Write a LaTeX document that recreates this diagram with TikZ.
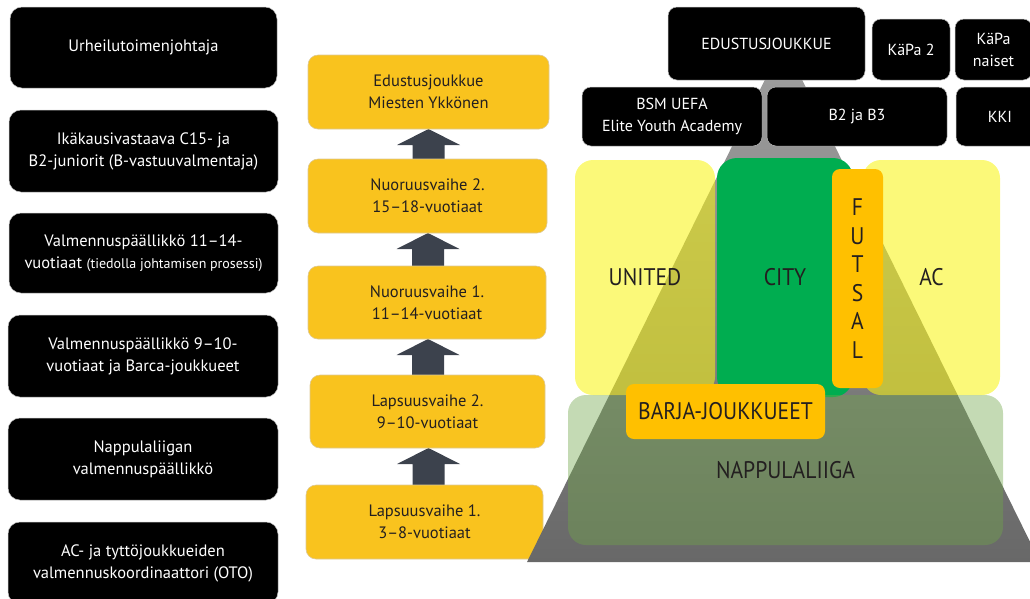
\documentclass[tikz,border=0pt]{standalone}
\usepackage{fontspec}
\setmainfont{PT Sans}
\newfontfamily\condfont{PT Sans}[FakeStretch=0.9]
\usetikzlibrary{calc}
\definecolor{ylwc}{RGB}{249,195,30}
\definecolor{ylwline}{RGB}{220,200,150}
\definecolor{txtc}{RGB}{35,31,32}
\definecolor{arrc}{RGB}{60,66,77}
\definecolor{cityc}{RGB}{0,173,80}
\definecolor{orc}{RGB}{255,192,0}
\definecolor{uyel}{RGB}{248,245,20}
\definecolor{nappc}{RGB}{112,166,73}
\definecolor{trtop}{RGB}{160,160,160}
\definecolor{trbot}{RGB}{104,104,104}
\begin{document}
\begin{tikzpicture}[x=1pt,y=-1pt,
  blk/.style={fill=black, draw=gray!50, line width=0.5pt, rounded corners=12pt, text=white, align=center, inner sep=0pt, font=\fontsize{16.5}{22}\selectfont},
  tblk/.style={blk, rounded corners=9pt, font=\fontsize{16}{22}\selectfont},
  ylw/.style={fill=ylwc, draw=ylwline, line width=0.6pt, rounded corners=10pt, text=txtc, align=center, inner sep=0pt, font=\fontsize{16.5}{22}\selectfont},
  arr/.style={fill=arrc},
  club/.style={rounded corners=18pt, inner sep=0pt, text=txtc, align=center, font=\condfont\fontsize{24}{28.6}\selectfont},
  uy/.style={club, fill=uyel, fill opacity=0.57, text opacity=1},
  tag/.style={club, fill=orc, rounded corners=8pt}
]
\useasboundingbox (0,0) rectangle (1030,598);

% left column
\node[blk, minimum width=267, minimum height=81] (l1) at (143.5,47.5) {Urheilutoimenjohtaja};
\node[blk, minimum width=269, minimum height=82] (l2) at (143.5,151) {Ikäkausivastaava C15- ja\\B2-juniorit (B-vastuuvalmentaja)};
\node[blk, minimum width=269, minimum height=80] (l3) at (143.5,253) {Valmennuspäällikkö 11–14-\\vuotiaat {\fontsize{14}{22}\selectfont(tiedolla johtamisen prosessi)}};
\node[blk, minimum width=270, minimum height=82] (l4) at (143,356) {Valmennuspäällikkö 9–10-\\vuotiaat ja Barca-joukkueet};
\node[blk, minimum width=270, minimum height=82] (l5) at (143,459) {Nappulaliigan\\valmennuspäällikkö};
\node[blk, minimum width=270, minimum height=82] (l6) at (143,563) {AC- ja tyttöjoukkueiden\\valmennuskoordinaattori (OTO)};

% middle column: arrows first
\coordinate (m1s) at (428.5,129);
\coordinate (m2n) at (428.5,159);
\coordinate (m2s) at (428,233);
\coordinate (m3n) at (428,266);
\coordinate (m3s) at (428,339);
\coordinate (m4n) at (428,375);
\coordinate (m4s) at (428.5,448);
\coordinate (m5n) at (428.5,485);
\foreach \a/\b in {m1s/m2n, m2s/m3n, m3s/m4n, m4s/m5n}{
  \fill[arr] (\a) -- ($(\a)+(31.5,16)$) -- ($(\a)+(16,16)$) -- ($(\b)+(16,3)$) -- ($(\b)+(-16,3)$) -- ($(\a)+(-16,16)$) -- ($(\a)+(-31.5,16)$) -- cycle;
}
\node[ylw, minimum width=241, minimum height=74] (m1) at (428.5,92) {Edustusjoukkue\\Miesten Ykkönen};
\node[ylw, minimum width=239, minimum height=74] (m2) at (427.5,196) {Nuoruusvaihe 2.\\15–18-vuotiaat};
\node[ylw, minimum width=238, minimum height=73] (m3) at (427,302.5) {Nuoruusvaihe 1.\\11–14-vuotiaat};
\node[ylw, minimum width=235, minimum height=73] (m4) at (427.5,411.5) {Lapsuusvaihe 2.\\9–10-vuotiaat};
\node[ylw, minimum width=237, minimum height=74] (m5) at (424.5,522) {Lapsuusvaihe 1.\\3–8-vuotiaat};

% right: pyramid
\coordinate (apex) at (783.5,42);
\coordinate (bl) at (527,562);
\coordinate (br) at (1040,562);
\shade[top color=trtop, bottom color=trbot] (apex) -- (bl) -- (br) -- cycle;

\node[uy, minimum width=140, minimum height=235] (united) at (645,277.5) {UNITED};
\node[uy, minimum width=137, minimum height=235] (ac) at (931.5,277.5) {AC};
\node[club, fill=cityc, rounded corners=20pt, minimum width=136, minimum height=239] (city) at (785,277.5) {CITY};
\node[tag, minimum width=51, minimum height=219] (futsal) at (857.5,278.5) {F\\U\\T\\S\\A\\L};
\node[club, fill=nappc, fill opacity=0.41, text opacity=1, minimum width=435, minimum height=150] (napp) at (785.5,470) {NAPPULALIIGA};
\node[tag, minimum width=199, minimum height=55] (barja) at (725.5,411.5) {BARJA-JOUKKUEET};

% top black boxes
\node[tblk, minimum width=197, minimum height=73] (edu) at (766.5,43.5) {EDUSTUSJOUKKUE};
\node[tblk, minimum width=78, minimum height=61] (kapa2) at (911,49.5) {KäPa 2};
\node[tblk, minimum width=77, minimum height=61] (kapan) at (993.5,49.5) {KäPa\\naiset};
\node[tblk, minimum width=180, minimum height=59] (bsm) at (672,116.5) {BSM UEFA\\Elite Youth Academy};
\node[tblk, minimum width=180, minimum height=59] (b2) at (857,116.5) {B2 ja B3};
\node[tblk, minimum width=88, minimum height=59] (kki) at (1000,116.5) {KKI};
\end{tikzpicture}
\end{document}
